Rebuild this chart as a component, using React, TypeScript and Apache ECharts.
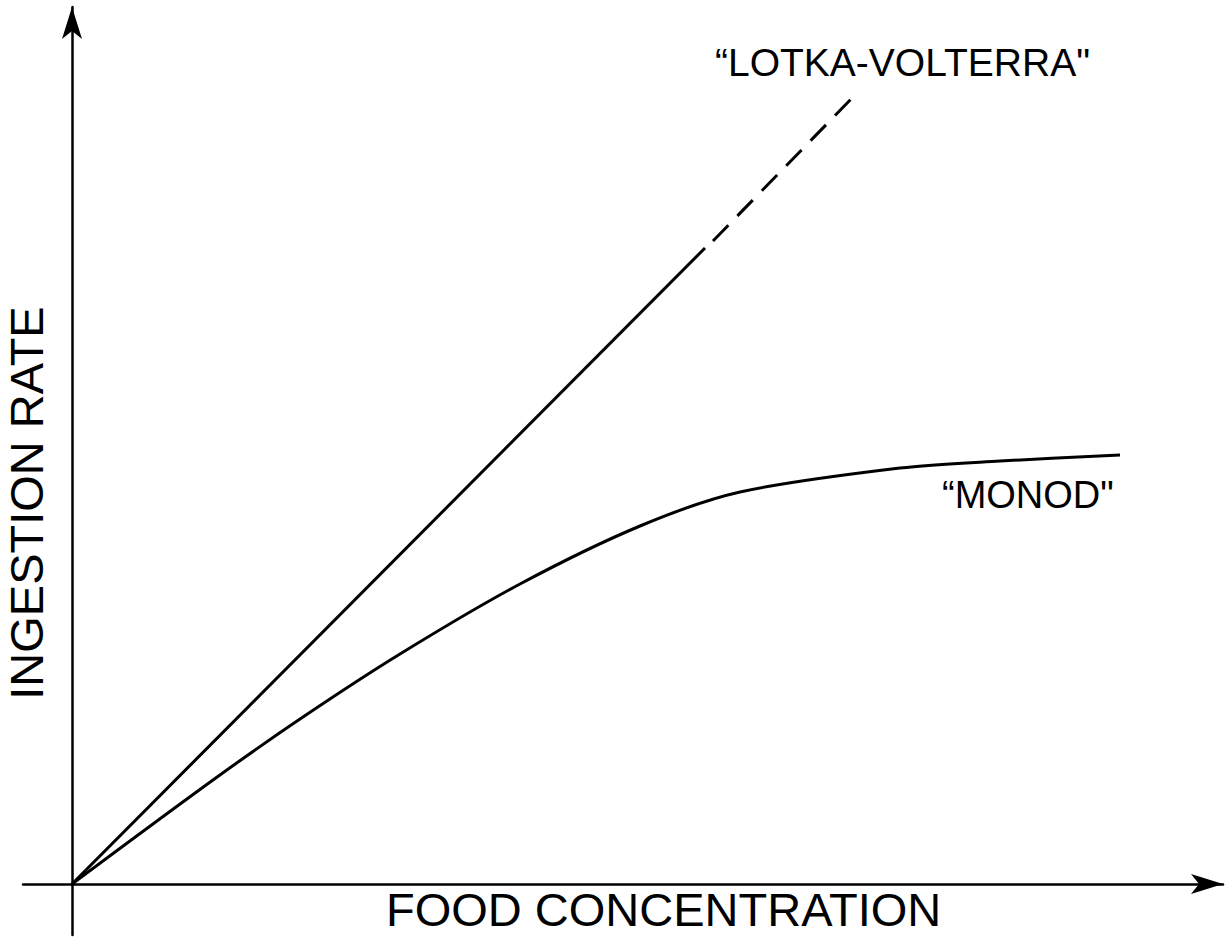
import React, { useEffect, useRef } from "react";
import * as echarts from "echarts";

// Axis titles and curve labels
const xAxisTitle = "FOOD CONCENTRATION";
const yAxisTitle = "INGESTION RATE";
const lotkaLabel = "\u201CLOTKA-VOLTERRA\"";
const monodLabel = "\u201CMONOD\"";

// "Lotka-Volterra" linear response: solid part and dashed extrapolation
const lotkaSolidX = [0, 63.3];
const lotkaSolidY = [0, 63.6];
const lotkaDashX = [64.1, 78.4];
const lotkaDashY = [64.3, 79.0];

// "Monod" saturating response
const monodX = [0, 14.1, 22.8, 32.8, 44.8, 56.8, 66.8, 82.8, 92.8, 104.8];
const monodY = [0, 10.4, 16.5, 23.0, 30.0, 35.8, 39.2, 41.6, 42.3, 42.9];

const pairs = (xs: number[], ys: number[]) => xs.map((x, i) => [x, ys[i]]);

export default function App() {
  const ref = useRef<HTMLDivElement>(null);
  useEffect(() => {
    if (!ref.current) return;
    const chart = echarts.init(ref.current, null, { renderer: "svg" });
    const font = "'Liberation Sans', Arial, Helvetica, sans-serif";
    const axisLine = {
      show: true,
      onZero: true,
      symbol: ["none", "arrow"],
      symbolSize: [15, 32],
      lineStyle: { color: "#000", width: 2.5 },
    };
    chart.setOption({
      animation: false,
      backgroundColor: "#fff",
      grid: { left: 23, right: 8, top: 7, bottom: 13, containLabel: false },
      xAxis: {
        type: "value",
        min: -4.9,
        max: 115.1,
        axisLine,
        axisTick: { show: false },
        axisLabel: { show: false },
        splitLine: { show: false },
      },
      yAxis: {
        type: "value",
        min: -5.1,
        max: 87.7,
        axisLine,
        axisTick: { show: false },
        axisLabel: { show: false },
        splitLine: { show: false },
      },
      series: [
        {
          type: "line",
          data: pairs(lotkaSolidX, lotkaSolidY),
          showSymbol: false,
          lineStyle: { color: "#000", width: 3 },
        },
        {
          type: "line",
          data: pairs(lotkaDashX, lotkaDashY),
          showSymbol: false,
          lineStyle: { color: "#000", width: 3, type: [22, 13] },
        },
        {
          type: "line",
          data: pairs(monodX, monodY),
          showSymbol: false,
          smooth: 0.3,
          lineStyle: { color: "#000", width: 3 },
        },
      ],
      graphic: [
        {
          type: "text",
          x: 715,
          y: 62,
          style: { text: lotkaLabel, font: `39px ${font}`, fill: "#000", align: "left", verticalAlign: "middle" },
        },
        {
          type: "text",
          x: 942,
          y: 495,
          style: { text: monodLabel, font: `38px ${font}`, fill: "#000", align: "left", verticalAlign: "middle" },
        },
        {
          type: "text",
          x: 386,
          y: 909,
          style: { text: xAxisTitle, font: `47px ${font}`, fill: "#000", align: "left", verticalAlign: "middle" },
        },
        {
          type: "text",
          x: 26,
          y: 503,
          rotation: Math.PI / 2,
          style: { text: yAxisTitle, font: `47px ${font}`, fill: "#000", align: "center", verticalAlign: "middle" },
        },
      ],
    });
    return () => chart.dispose();
  }, []);
  return <div ref={ref} style={{ position: "absolute", left: 0, top: 0, width: 1231, height: 948 }} />;
}
